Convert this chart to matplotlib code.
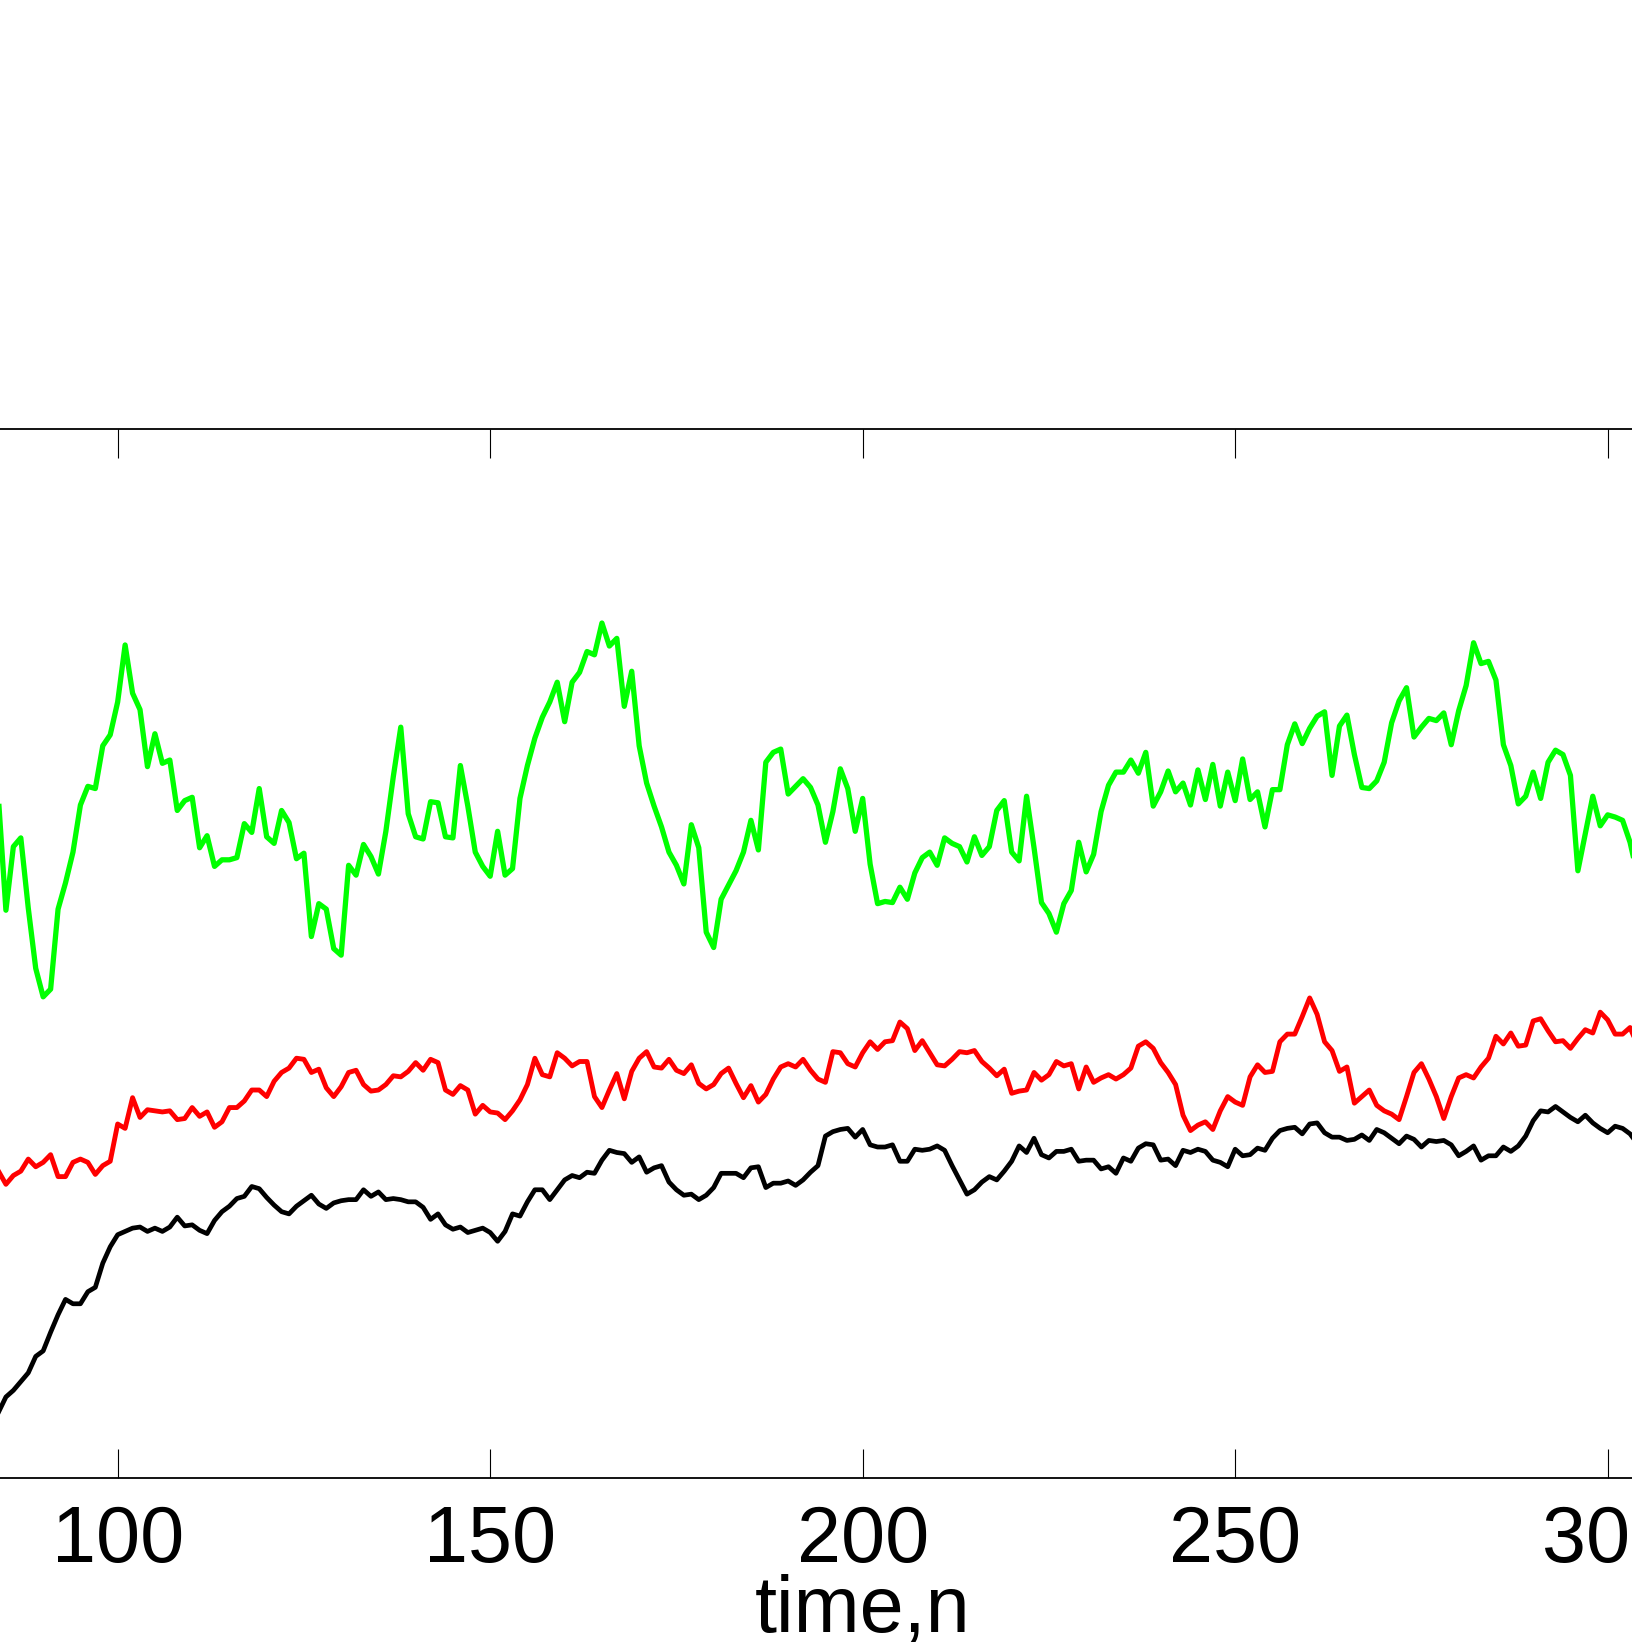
import matplotlib.pyplot as plt
import numpy as np

plt.rcParams['font.family'] = ['Liberation Sans', 'DejaVu Sans']

# time axis, one sample per step
n = np.arange(84, 305)

green = [
    62.0, 51.8, 57.6, 58.4, 52.0, 46.5, 43.9, 44.6, 51.9, 54.3,  # 84-93
    57.1, 61.4, 63.1, 62.9, 66.8, 67.8, 70.8, 76.0, 71.6, 70.1,  # 94-103
    64.9, 67.9, 65.2, 65.5, 60.9, 61.8, 62.1, 57.5, 58.6, 55.8,  # 104-113
    56.4, 56.4, 56.6, 59.7, 58.9, 62.9, 58.5, 57.9, 60.9, 59.8,  # 114-123
    56.5, 57.0, 49.4, 52.4, 51.9, 48.3, 47.7, 55.9, 55.0, 57.8,  # 124-133
    56.7, 55.1, 59.0, 64.0, 68.5, 60.6, 58.5, 58.3, 61.7, 61.6,  # 134-143
    58.5, 58.4, 65.0, 61.3, 57.1, 55.8, 54.9, 59.0, 55.0, 55.6,  # 144-153
    62.0, 65.0, 67.5, 69.4, 70.8, 72.6, 69.0, 72.6, 73.5, 75.4,  # 154-163
    75.1, 78.0, 75.9, 76.6, 70.4, 73.6, 66.8, 63.4, 61.3, 59.4,  # 164-173
    57.1, 55.9, 54.2, 59.6, 57.5, 49.8, 48.4, 52.8, 54.1, 55.4,  # 174-183
    57.1, 60.0, 57.3, 65.3, 66.2, 66.5, 62.4, 63.1, 63.8, 63.0,  # 184-193
    61.4, 58.0, 60.8, 64.7, 62.9, 59.0, 62.0, 56.0, 52.4, 52.6,  # 194-203
    52.5, 53.9, 52.8, 55.2, 56.6, 57.1, 55.9, 58.4, 57.9, 57.6,  # 204-213
    56.2, 58.5, 56.8, 57.6, 60.9, 61.8, 57.1, 56.3, 62.2, 57.5,  # 214-223
    52.5, 51.5, 49.8, 52.4, 53.6, 58.0, 55.3, 56.9, 60.8, 63.2,  # 224-233
    64.4, 64.4, 65.5, 64.3, 66.2, 61.3, 62.6, 64.5, 62.6, 63.4,  # 234-243
    61.4, 64.6, 61.9, 65.1, 61.3, 64.4, 61.8, 65.6, 61.9, 62.6,  # 244-253
    59.4, 62.8, 62.8, 66.9, 68.8, 67.0, 68.4, 69.5, 69.9, 64.1,  # 254-263
    68.6, 69.6, 66.0, 63.0, 62.9, 63.6, 65.3, 68.9, 70.9, 72.1,  # 264-273
    67.6, 68.5, 69.3, 69.1, 69.8, 66.9, 70.0, 72.3, 76.2, 74.3,  # 274-283
    74.5, 72.8, 66.9, 65.0, 61.5, 62.2, 64.4, 62.0, 65.3, 66.4,  # 284-293
    66.0, 64.1, 55.4, 58.8, 62.2, 59.5, 60.5, 60.3, 60.0, 58.0,  # 294-303
    55.0,
]

red = [
    28.0, 26.8, 27.6, 28.0, 29.1, 28.4, 28.8, 29.5, 27.5, 27.5,
    28.8, 29.1, 28.8, 27.7, 28.5, 28.9, 32.3, 31.9, 34.7, 32.9,
    33.6, 33.5, 33.4, 33.5, 32.7, 32.8, 33.8, 33.0, 33.4, 32.0,
    32.5, 33.8, 33.8, 34.4, 35.4, 35.4, 34.8, 36.2, 37.0, 37.4,
    38.3, 38.2, 37.0, 37.3, 35.6, 34.8, 35.7, 37.0, 37.2, 35.9,
    35.3, 35.4, 35.9, 36.7, 36.6, 37.1, 37.9, 37.2, 38.2, 37.9,
    35.4, 35.0, 35.8, 35.4, 33.2, 34.0, 33.4, 33.3, 32.7, 33.5,
    34.5, 35.9, 38.3, 36.8, 36.6, 38.8, 38.3, 37.6, 38.0, 38.0,
    34.8, 33.8, 35.4, 36.9, 34.6, 37.1, 38.3, 38.9, 37.5, 37.4,
    38.2, 37.2, 36.9, 37.7, 36.0, 35.5, 35.9, 36.9, 37.4, 36.0,
    34.7, 35.8, 34.3, 35.0, 36.4, 37.5, 37.8, 37.5, 38.2, 37.2,
    36.4, 36.1, 38.9, 38.8, 37.8, 37.5, 38.8, 39.8, 39.1, 39.8,
    39.9, 41.6, 41.0, 39.0, 39.9, 38.8, 37.7, 37.6, 38.2, 38.9,
    38.8, 39.0, 38.0, 37.4, 36.7, 37.3, 35.1, 35.3, 35.4, 37.0,
    36.3, 36.8, 38.0, 37.6, 37.8, 35.5, 37.5, 36.1, 36.5, 36.8,
    36.4, 36.8, 37.4, 39.4, 39.8, 39.2, 37.9, 37.0, 35.9, 33.1,
    31.7, 32.2, 32.5, 31.8, 33.5, 34.8, 34.3, 34.0, 36.6, 37.7,
    37.0, 37.1, 39.8, 40.5, 40.5, 42.1, 43.8, 42.3, 39.8, 39.0,
    37.1, 37.5, 34.2, 34.8, 35.4, 34.0, 33.5, 33.2, 32.7, 34.8,
    37.0, 37.8, 36.4, 34.8, 32.8, 34.8, 36.5, 36.8, 36.5, 37.5,
    38.3, 40.3, 39.6, 40.6, 39.4, 39.5, 41.7, 41.9, 40.8, 39.8,
    39.9, 39.2, 40.1, 40.9, 40.6, 42.5, 41.8, 40.5, 40.5, 41.1,
    39.5,
]

black = [
    6.0, 7.4, 8.0, 8.8, 9.6, 11.1, 11.6, 13.3, 14.9, 16.3,
    15.9, 15.9, 17.0, 17.4, 19.6, 21.1, 22.2, 22.5, 22.8, 22.9,
    22.5, 22.8, 22.5, 22.9, 23.8, 23.0, 23.1, 22.6, 22.3, 23.5,
    24.3, 24.8, 25.5, 25.7, 26.6, 26.4, 25.6, 24.9, 24.3, 24.1,
    24.8, 25.3, 25.8, 25.0, 24.6, 25.1, 25.3, 25.4, 25.4, 26.3,
    25.7, 26.1, 25.4, 25.5, 25.4, 25.2, 25.2, 24.7, 23.6, 24.1,
    23.1, 22.7, 22.9, 22.4, 22.6, 22.8, 22.4, 21.6, 22.5, 24.1,
    23.9, 25.2, 26.3, 26.3, 25.4, 26.3, 27.2, 27.6, 27.4, 27.9,
    27.8, 29.0, 29.9, 29.7, 29.6, 28.8, 29.3, 27.9, 28.3, 28.5,
    27.0, 26.3, 25.8, 25.9, 25.4, 25.8, 26.5, 27.8, 27.8, 27.8,
    27.4, 28.3, 28.4, 26.5, 26.9, 26.9, 27.1, 26.7, 27.2, 27.9,
    28.5, 31.2, 31.6, 31.8, 31.9, 31.1, 31.8, 30.4, 30.2, 30.2,
    30.4, 28.9, 28.9, 30.0, 29.9, 30.0, 30.3, 29.9, 28.5, 27.2,
    25.9, 26.3, 27.0, 27.5, 27.2, 28.0, 28.9, 30.3, 29.7, 31.0,
    29.5, 29.2, 29.8, 29.8, 30.0, 28.9, 29.0, 29.0, 28.2, 28.4,
    27.8, 29.2, 28.9, 30.1, 30.5, 30.4, 29.0, 29.1, 28.5, 29.9,
    29.7, 30.0, 29.8, 29.0, 28.8, 28.4, 30.0, 29.4, 29.5, 30.1,
    29.9, 31.0, 31.7, 31.9, 32.0, 31.4, 32.3, 32.4, 31.5, 31.1,
    31.1, 30.8, 30.9, 31.3, 30.8, 31.8, 31.5, 31.0, 30.5, 31.2,
    30.9, 30.2, 30.8, 30.7, 30.8, 30.4, 29.4, 29.8, 30.3, 29.0,
    29.4, 29.4, 30.2, 29.8, 30.3, 31.2, 32.6, 33.5, 33.4, 33.9,
    33.4, 32.9, 32.5, 33.1, 32.4, 31.9, 31.5, 32.1, 31.9, 31.4,
    30.5,
]

# only the ticks that fall inside the visible window
xticks = [100, 150, 200, 250, 300]

fig = plt.figure(figsize=(16.32, 16.5), dpi=100)
# the axes run past both sides of the figure, only the middle part shows
ax = fig.add_axes([-0.3844, 0.1042, 1.826, 0.6358])

ax.plot(n, green, color=(0, 1, 0), lw=3.8)
ax.plot(n, red, color=(1, 0, 0), lw=3.5)
ax.plot(n, black, color='black', lw=3.4)

ax.set_xlim(0, 400)
ax.set_ylim(0, 95.7)
ax.set_xticks(xticks)
ax.set_yticks([])
ax.tick_params(axis='x', direction='in', length=21, width=0.8, top=True,
               labelsize=57, pad=19)
for s in ax.spines.values():
    s.set_linewidth(1.3)

ax.set_xlabel('time,n', fontsize=57, va='baseline')
ax.xaxis.set_label_coords(0.5, -0.1468)

fig.savefig('out.png', dpi=100)
